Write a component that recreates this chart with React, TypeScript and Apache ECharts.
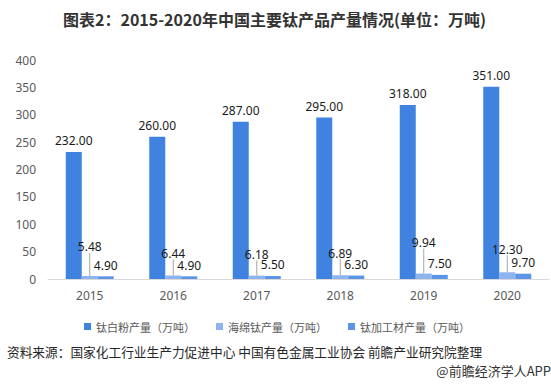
import React, { useEffect, useRef } from 'react';
import * as echarts from 'echarts';

const years = ['2015', '2016', '2017', '2018', '2019', '2020'];
const titaniumDioxide = [232.0, 260.0, 287.0, 295.0, 318.0, 351.0];
const spongeTitanium = [5.48, 6.44, 6.18, 6.89, 9.94, 12.3];
const titaniumMaterial = [4.9, 4.9, 5.5, 6.3, 7.5, 9.7];
const seriesNames = ['钛白粉产量（万吨）', '海绵钛产量（万吨）', '钛加工材产量（万吨）'];
const titleText = '图表2：2015-2020年中国主要钛产品产量情况(单位：万吨)';
const sourceText = '资料来源：国家化工行业生产力促进中心 中国有色金属工业协会 前瞻产业研究院整理';
const brandText = '@前瞻经济学人APP';

const FONT = '"Noto Sans", "Noto Sans CJK SC", sans-serif';
const CJK = '"Noto Sans CJK SC", "Noto Sans", sans-serif';
const spongeLift = [-18, -11, -10, -11, -20, -12];

export default function App() {
  const ref = useRef<HTMLDivElement>(null);
  useEffect(() => {
    if (!ref.current) return;
    const chart = echarts.init(ref.current, undefined, { renderer: 'svg' });
    const fmt = (p: any) => Number(p.value).toFixed(2);
    const labelBase = { show: true, position: 'top', formatter: fmt, color: '#1a1a1a', fontSize: 12, fontFamily: FONT, distance: 5 };
    chart.setOption({
      animation: false,
      textStyle: { fontFamily: FONT },
      title: {
        text: titleText,
        left: 58,
        top: 6,
        textStyle: { fontSize: 16, fontWeight: 'bold', color: '#333333', fontFamily: CJK },
      },
      grid: { left: 48, right: 2, top: 60, bottom: 107 },
      legend: {
        left: 79,
        top: 316,
        icon: 'rect',
        itemWidth: 7,
        itemHeight: 7,
        itemGap: 21,
        textStyle: { fontSize: 11, color: '#595959', fontFamily: CJK },
        data: seriesNames,
      },
      xAxis: {
        type: 'category',
        data: years,
        axisLine: { lineStyle: { color: '#d9d9d9' } },
        axisTick: { show: false },
        axisLabel: { color: '#595959', fontSize: 12, margin: 10 },
      },
      yAxis: {
        type: 'value',
        min: 0,
        max: 400,
        interval: 50,
        splitLine: { show: false },
        axisLine: { show: false },
        axisTick: { show: false },
        axisLabel: { color: '#595959', fontSize: 12, margin: 12 },
      },
      series: [
        {
          name: seriesNames[0],
          type: 'bar',
          data: titaniumDioxide,
          barWidth: 16,
          barGap: '0%',
          itemStyle: { color: '#3F82E0' },
          label: labelBase,
        },
        {
          name: seriesNames[1],
          type: 'bar',
          data: spongeTitanium,
          barWidth: 16,
          barGap: '0%',
          itemStyle: { color: '#8DB4EF' },
          label: labelBase,
          labelLayout: (p: any) => ({ dy: spongeLift[p.dataIndex] }),
          labelLine: { show: true, lineStyle: { color: '#a6a6a6', width: 1 } },
        },
        {
          name: seriesNames[2],
          type: 'bar',
          data: titaniumMaterial,
          barWidth: 16,
          barGap: '0%',
          itemStyle: { color: '#5B95E8' },
          label: labelBase,
        },
      ],
      graphic: [
        {
          type: 'text',
          left: 7,
          top: 345,
          style: { text: sourceText, fontSize: 12.7, fill: '#262626', fontFamily: CJK },
        },
        {
          type: 'text',
          right: 0,
          top: 364,
          style: { text: brandText, fontSize: 13, fill: '#333333', fontFamily: CJK },
        },
      ],
    });
    return () => chart.dispose();
  }, []);
  return (
    <div
      ref={ref}
      style={{ position: 'fixed', left: 0, top: 0, width: 551, height: 386, background: '#ffffff' }}
    />
  );
}
